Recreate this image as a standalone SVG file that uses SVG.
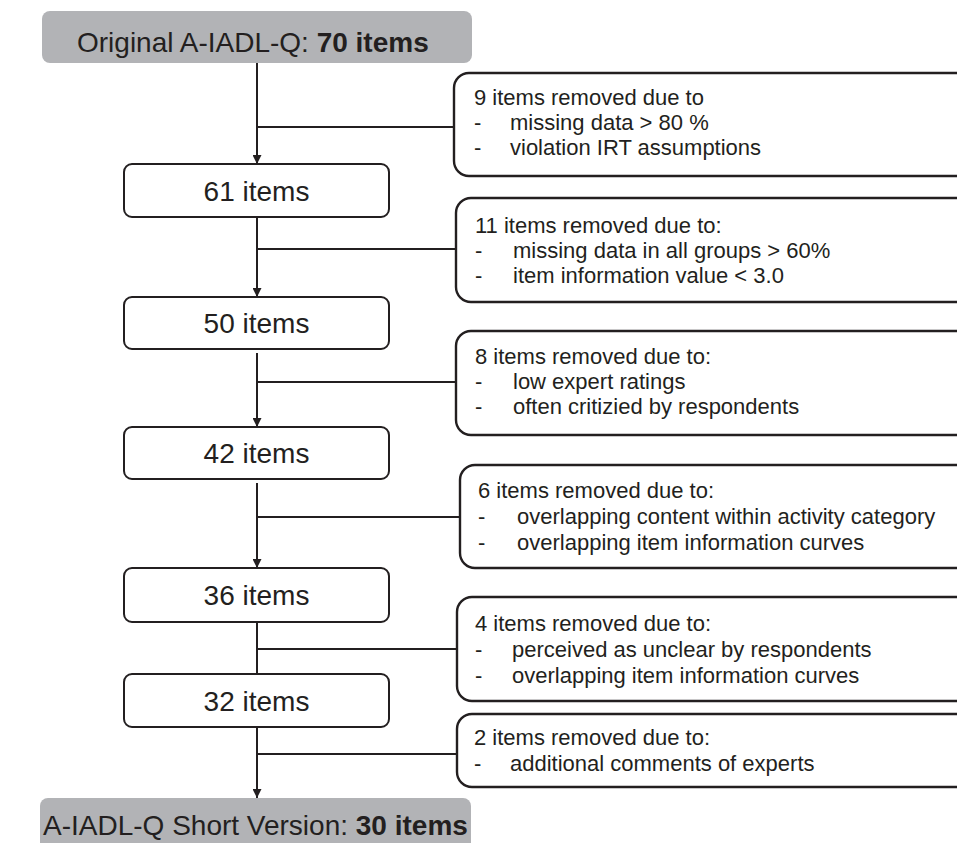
<svg xmlns="http://www.w3.org/2000/svg" width="957" height="843" viewBox="0 0 957 843">
<style>
.grey{fill:#b2b3b6;stroke:none}
.node{fill:#fff;stroke:#231f20;stroke-width:2}
.side{fill:#fff;stroke:#231f20;stroke-width:2.4}
.t28{font-family:"Liberation Sans",Arial,sans-serif;font-size:28px;fill:#231f20}
.t22{font-family:"Liberation Sans",Arial,sans-serif;font-size:22px;fill:#231f20}
.b{font-weight:bold}
.con{stroke:#231f20;stroke-width:2;fill:none}
</style>
<defs>
<marker id="arr" viewBox="0 0 10 10" refX="10" refY="5" markerWidth="9" markerHeight="9" markerUnits="userSpaceOnUse" orient="auto">
<path d="M0,0 L10,5 L0,10 z" fill="#231f20"/>
</marker>
</defs>
<g id="connectors">
<line class="con" x1="257" y1="63" x2="257" y2="164" marker-end="url(#arr)"/>
<line class="con" x1="257" y1="127" x2="454" y2="127"/>
<line class="con" x1="257" y1="217" x2="257" y2="297" marker-end="url(#arr)"/>
<line class="con" x1="257" y1="249" x2="456" y2="249"/>
<line class="con" x1="257" y1="353" x2="257" y2="427" marker-end="url(#arr)"/>
<line class="con" x1="257" y1="382" x2="456" y2="382"/>
<line class="con" x1="257" y1="483" x2="257" y2="568" marker-end="url(#arr)"/>
<line class="con" x1="257" y1="517" x2="460" y2="517"/>
<line class="con" x1="257" y1="622" x2="257" y2="674"/>
<line class="con" x1="257" y1="649" x2="456" y2="649"/>
<line class="con" x1="257" y1="727" x2="257" y2="798" marker-end="url(#arr)"/>
<line class="con" x1="257" y1="754" x2="457" y2="754"/>
</g>
<g id="start">
<rect class="grey" x="42" y="11" width="430" height="52" rx="8"/>
<text class="t28" x="77" y="52">Original A-IADL-Q: <tspan class="b">70 items</tspan></text>
</g>
<g id="n61">
<rect class="node" x="124" y="164" width="265" height="53" rx="8"/>
<text class="t28" x="256.5" y="200.5" text-anchor="middle">61 items</text>
</g>
<g id="n50">
<rect class="node" x="124" y="297" width="265" height="52" rx="8"/>
<text class="t28" x="256.5" y="333" text-anchor="middle">50 items</text>
</g>
<g id="n42">
<rect class="node" x="124" y="427" width="265" height="52" rx="8"/>
<text class="t28" x="256.5" y="463" text-anchor="middle">42 items</text>
</g>
<g id="n36">
<rect class="node" x="124" y="568" width="265" height="54" rx="8"/>
<text class="t28" x="256.5" y="605" text-anchor="middle">36 items</text>
</g>
<g id="n32">
<rect class="node" x="124" y="674" width="265" height="53" rx="8"/>
<text class="t28" x="256.5" y="710.5" text-anchor="middle">32 items</text>
</g>
<g id="end">
<rect class="grey" x="40" y="798" width="431" height="70" rx="8"/>
<text class="t28" x="43" y="835">A-IADL-Q Short Version: <tspan class="b">30 items</tspan></text>
</g>
<g id="r9">
<rect class="side" x="454" y="73" width="530" height="103" rx="15"/>
<text class="t22" x="474" y="105">9 items removed due to</text>
<text class="t22" x="474" y="130">-</text><text class="t22" x="510" y="130">missing data &gt; 80 %</text>
<text class="t22" x="474" y="155">-</text><text class="t22" x="510" y="155">violation IRT assumptions</text>
</g>
<g id="r11">
<rect class="side" x="456" y="198" width="530" height="104" rx="15"/>
<text class="t22" x="475" y="233">11 items removed due to:</text>
<text class="t22" x="475" y="258">-</text><text class="t22" x="513" y="258">missing data in all groups &gt; 60%</text>
<text class="t22" x="475" y="283">-</text><text class="t22" x="513" y="283">item information value &lt; 3.0</text>
</g>
<g id="r8">
<rect class="side" x="456" y="331" width="530" height="104" rx="15"/>
<text class="t22" x="475" y="364">8 items removed due to:</text>
<text class="t22" x="475" y="389">-</text><text class="t22" x="513" y="389">low expert ratings</text>
<text class="t22" x="475" y="414">-</text><text class="t22" x="513" y="414">often critizied by respondents</text>
</g>
<g id="r6">
<rect class="side" x="460" y="465" width="530" height="103" rx="15"/>
<text class="t22" x="478" y="498">6 items removed due to:</text>
<text class="t22" x="478" y="524">-</text><text class="t22" x="517" y="524">overlapping content within activity category</text>
<text class="t22" x="478" y="550">-</text><text class="t22" x="517" y="550">overlapping item information curves</text>
</g>
<g id="r4">
<rect class="side" x="457" y="597" width="530" height="104" rx="15"/>
<text class="t22" x="475" y="631">4 items removed due to:</text>
<text class="t22" x="475" y="657">-</text><text class="t22" x="512" y="657">perceived as unclear by respondents</text>
<text class="t22" x="475" y="683">-</text><text class="t22" x="512" y="683">overlapping item information curves</text>
</g>
<g id="r2">
<rect class="side" x="457" y="714" width="530" height="73" rx="15"/>
<text class="t22" x="474" y="745">2 items removed due to:</text>
<text class="t22" x="474" y="771">-</text><text class="t22" x="510" y="771">additional comments of experts</text>
</g>
</svg>
